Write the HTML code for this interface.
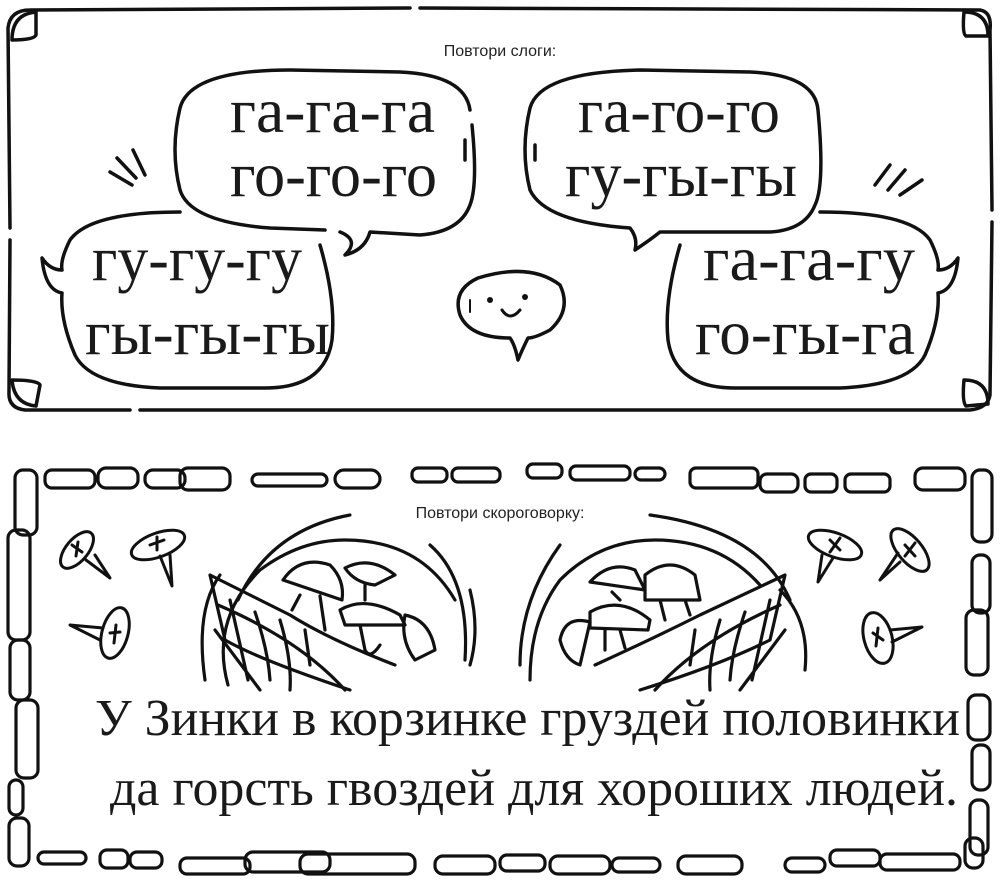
<!DOCTYPE html>
<html><head><meta charset="utf-8"><style>
html,body{margin:0;padding:0;background:#fff}
svg{display:block}
.s{fill:none;stroke:#111;stroke-width:3.5;stroke-linecap:round;stroke-linejoin:round}
.t{font-family:"Liberation Serif",serif;fill:#1a1a1a}
.l{font-family:"Liberation Sans","DejaVu Sans",sans-serif;fill:#222;font-size:16px}
</style></head><body>
<svg width="1000" height="883" viewBox="0 0 1000 883">
<!-- top frame -->
<path class="s" d="M30 10 L410 8 M420 8 L980 10 Q992 12 990 30 L992 210 M992 222 L990 395 Q988 408 970 410 L140 410 M130 410 L25 410 Q8 408 9 392 L10 240 M10 228 L8 28 Q10 10 30 10"/>
<path class="s" d="M12 40 Q12 14 36 12 L36 35 Q34 40 12 40Z"/>
<path class="s" d="M964 12 Q988 12 988 36 L966 36 Q962 34 964 12Z"/>
<path class="s" d="M12 380 Q14 404 36 406 L40 385 Q38 380 12 380Z"/>
<path class="s" d="M964 380 Q988 380 988 404 L966 406 Q962 402 964 380Z"/>
<text class="l" x="500" y="56" text-anchor="middle">Повтори слоги:</text>
<!-- bubbles left -->
<path class="s" d="M180 108 Q190 70 290 70 L400 72 Q465 75 470 110 M472 125 Q478 185 470 205 Q460 232 420 235 L370 232 Q365 250 345 255 Q360 240 340 232 M325 230 L270 228 Q190 222 180 190 Q170 150 180 108"/>
<path class="s" d="M180 212 Q90 212 70 240 Q60 260 62 270 Q50 270 42 258 Q45 290 62 293 Q60 320 75 355 Q90 385 160 388 L265 388 Q325 388 332 340 Q336 300 320 245"/>
<path class="s" d="M465 140 L465 160"/>
<path class="s" d="M110 172 L132 185 M117 158 L136 178 M133 150 L145 175"/>
<!-- bubbles right -->
<path class="s" d="M530 108 Q540 72 640 70 L750 72 Q815 75 818 110 Q825 185 815 205 Q805 230 770 232 L670 232 L660 232 Q650 240 635 250 Q638 238 630 228 Q545 222 530 190 Q520 150 530 108Z"/>
<path class="s" d="M535 145 L535 160"/>
<path class="s" d="M820 212 Q910 212 930 240 Q940 260 938 270 Q950 270 958 258 Q955 290 938 293 Q940 320 925 355 Q910 385 840 388 L735 388 Q675 388 668 340 Q664 300 680 245"/>
<path class="s" d="M875 185 L890 165 M888 190 L905 170 M900 195 L922 180"/>
<!-- smiley -->
<path class="s" d="M478 278 Q530 262 560 285 Q572 310 550 330 Q535 338 528 338 Q522 350 518 360 Q515 345 510 338 Q470 338 460 315 Q452 290 478 278Z"/>
<circle cx="490" cy="300" r="3" fill="#111"/><circle cx="525" cy="297" r="3" fill="#111"/>
<path class="s" d="M502 310 Q510 322 520 310" style="stroke-width:3"/>
<path class="s" d="M470 300 L470 312" style="stroke-width:2"/>
<!-- syllable text -->
<text class="t" font-size="64" x="230" y="132" textLength="205" lengthAdjust="spacingAndGlyphs">га-га-га</text>
<text class="t" font-size="64" x="230" y="196" textLength="207" lengthAdjust="spacingAndGlyphs">го-го-го</text>
<text class="t" font-size="64" x="92" y="280" textLength="210" lengthAdjust="spacingAndGlyphs">гу-гу-гу</text>
<text class="t" font-size="64" x="85" y="354" textLength="245" lengthAdjust="spacingAndGlyphs">гы-гы-гы</text>
<text class="t" font-size="64" x="578" y="132" textLength="202" lengthAdjust="spacingAndGlyphs">га-го-го</text>
<text class="t" font-size="64" x="565" y="196" textLength="232" lengthAdjust="spacingAndGlyphs">гу-гы-гы</text>
<text class="t" font-size="64" x="703" y="280" textLength="212" lengthAdjust="spacingAndGlyphs">га-га-гу</text>
<text class="t" font-size="64" x="695" y="354" textLength="220" lengthAdjust="spacingAndGlyphs">го-гы-га</text>

<!-- bottom stone frame -->
<g class="s" style="stroke-width:3.2">
<rect x="45" y="470" width="50" height="18" rx="7"/><rect x="98" y="468" width="40" height="20" rx="8"/><rect x="145" y="470" width="40" height="18" rx="8"/><rect x="180" y="468" width="50" height="22" rx="8"/>
<rect x="252" y="474" width="75" height="12" rx="6"/><rect x="335" y="470" width="45" height="18" rx="9"/><rect x="412" y="468" width="35" height="14" rx="6"/><rect x="452" y="468" width="48" height="14" rx="6"/>
<rect x="527" y="464" width="35" height="14" rx="6"/><rect x="570" y="466" width="60" height="14" rx="6"/><rect x="635" y="468" width="30" height="12" rx="6"/>
<rect x="690" y="468" width="68" height="20" rx="6"/><rect x="760" y="474" width="38" height="18" rx="7"/><rect x="805" y="474" width="32" height="18" rx="6"/><rect x="845" y="474" width="45" height="18" rx="6"/><rect x="915" y="468" width="50" height="22" rx="8"/>
<rect x="15" y="470" width="22" height="65" rx="8"/><rect x="8" y="530" width="22" height="110" rx="8"/><rect x="10" y="640" width="20" height="60" rx="8"/><rect x="16" y="700" width="22" height="78" rx="8"/><rect x="9" y="780" width="14" height="35" rx="7"/><rect x="9" y="818" width="20" height="48" rx="8"/>
<rect x="972" y="470" width="20" height="72" rx="8"/><rect x="972" y="555" width="18" height="58" rx="8"/><rect x="966" y="610" width="22" height="65" rx="8"/><rect x="968" y="695" width="22" height="45" rx="8"/><rect x="972" y="745" width="18" height="45" rx="8"/><rect x="970" y="800" width="18" height="55" rx="8"/><rect x="965" y="838" width="18" height="30" rx="8"/>
<rect x="38" y="852" width="48" height="12" rx="6"/><rect x="100" y="850" width="28" height="18" rx="7"/><rect x="130" y="852" width="32" height="16" rx="7"/><rect x="180" y="858" width="70" height="16" rx="7"/><rect x="245" y="852" width="85" height="20" rx="8"/><rect x="300" y="854" width="115" height="20" rx="8"/>
<rect x="435" y="856" width="60" height="18" rx="8"/><rect x="500" y="855" width="45" height="16" rx="7"/><rect x="550" y="856" width="60" height="18" rx="8"/><rect x="612" y="858" width="48" height="14" rx="7"/><rect x="678" y="856" width="64" height="18" rx="8"/><rect x="785" y="858" width="40" height="14" rx="7"/><rect x="830" y="850" width="50" height="16" rx="7"/><rect x="880" y="854" width="80" height="16" rx="7"/>
</g>
<text class="l" x="500" y="518" text-anchor="middle">Повтори скороговорку:</text>
<!-- tacks -->
<g class="s" style="stroke-width:3">
<ellipse cx="77" cy="550" rx="22" ry="11" transform="rotate(-50 77 550)"/><path d="M72 545 L82 552 M78 542 L76 556 M86 560 L110 578 L95 555"/>
<ellipse cx="158" cy="545" rx="28" ry="12" transform="rotate(-20 158 545)"/><path d="M150 545 L164 540 M157 537 L157 550 M160 556 L172 586 L170 555"/>
<ellipse cx="115" cy="633" rx="13" ry="26" transform="rotate(15 115 633)"/><path d="M110 633 L120 632 M116 625 L114 643 M103 628 L70 625 L100 640"/>
<ellipse cx="835" cy="545" rx="28" ry="12" transform="rotate(20 835 545)"/><path d="M830 540 L840 550 M840 538 L830 552 M822 555 L818 582 L833 558"/>
<ellipse cx="910" cy="550" rx="26" ry="12" transform="rotate(50 910 550)"/><path d="M905 545 L915 556 M915 543 L905 556 M900 562 L880 580 L898 553"/>
<ellipse cx="878" cy="638" rx="14" ry="26" transform="rotate(-15 878 638)"/><path d="M873 633 L883 640 M878 628 L876 646 M890 630 L922 627 L892 642"/>
</g>
<!-- baskets -->
<g class="s" style="stroke-width:3.2">
<path d="M238 600 Q270 530 350 515"/>
<path d="M228 685 Q210 620 260 570 Q300 540 345 540 Q420 540 455 600 M470 590 Q480 630 470 665"/>
<path d="M205 680 Q195 610 220 575"/>
<path d="M430 545 Q470 580 465 660"/>
<path d="M210 575 L290 615 Q330 640 395 665 M210 575 L225 640 Q260 660 350 690"/>
<path d="M218 605 Q300 640 345 690 M215 630 L260 690 M230 600 L248 680 M255 612 Q268 650 270 680 M280 620 Q292 660 290 690 M305 630 L310 665"/>
<path d="M283 580 Q300 555 330 565 Q345 580 342 600 Z M300 595 L292 610 M320 596 L325 630"/>
<path d="M345 568 Q370 555 395 575 L375 585 Q355 583 345 568Z M365 585 L365 600"/>
<path d="M340 610 Q365 595 400 615 L405 625 L345 625 Z M360 625 L365 650 Q370 660 380 645"/>
<path d="M405 615 Q430 620 435 650 L415 660 Q400 640 405 615Z"/>
<path d="M790 600 Q760 530 650 515"/>
<path d="M530 680 Q530 620 560 580 Q600 540 655 540 Q720 540 760 585"/>
<path d="M520 665 Q520 600 560 545"/>
<path d="M780 590 Q810 620 805 670"/>
<path d="M785 575 L700 615 Q650 640 595 665 M785 575 L770 640 Q720 665 640 690"/>
<path d="M780 605 Q700 640 655 690 M785 630 L740 690 M770 600 L752 680 M745 612 Q732 650 730 680 M720 620 Q708 660 710 690 M695 630 L690 665"/>
<path d="M590 582 Q610 560 635 570 L645 590 Z M612 592 L620 600"/>
<path d="M645 575 Q670 555 695 575 L700 600 L645 600 Z M660 600 L665 620 M685 600 L690 615"/>
<path d="M590 612 Q620 595 650 620 L648 630 L590 628 Z M605 630 L605 650 M620 630 L625 648"/>
<path d="M560 640 Q565 615 590 622 L580 665 Q565 660 560 640Z"/>
</g>
<!-- tongue twister -->
<text class="t" font-size="52" x="95" y="735" textLength="865" lengthAdjust="spacingAndGlyphs">У Зинки в корзинке груздей половинки</text>
<text class="t" font-size="52" x="110" y="805" textLength="848" lengthAdjust="spacingAndGlyphs">да горсть гвоздей для хороших людей.</text>
</svg>
</body></html>
